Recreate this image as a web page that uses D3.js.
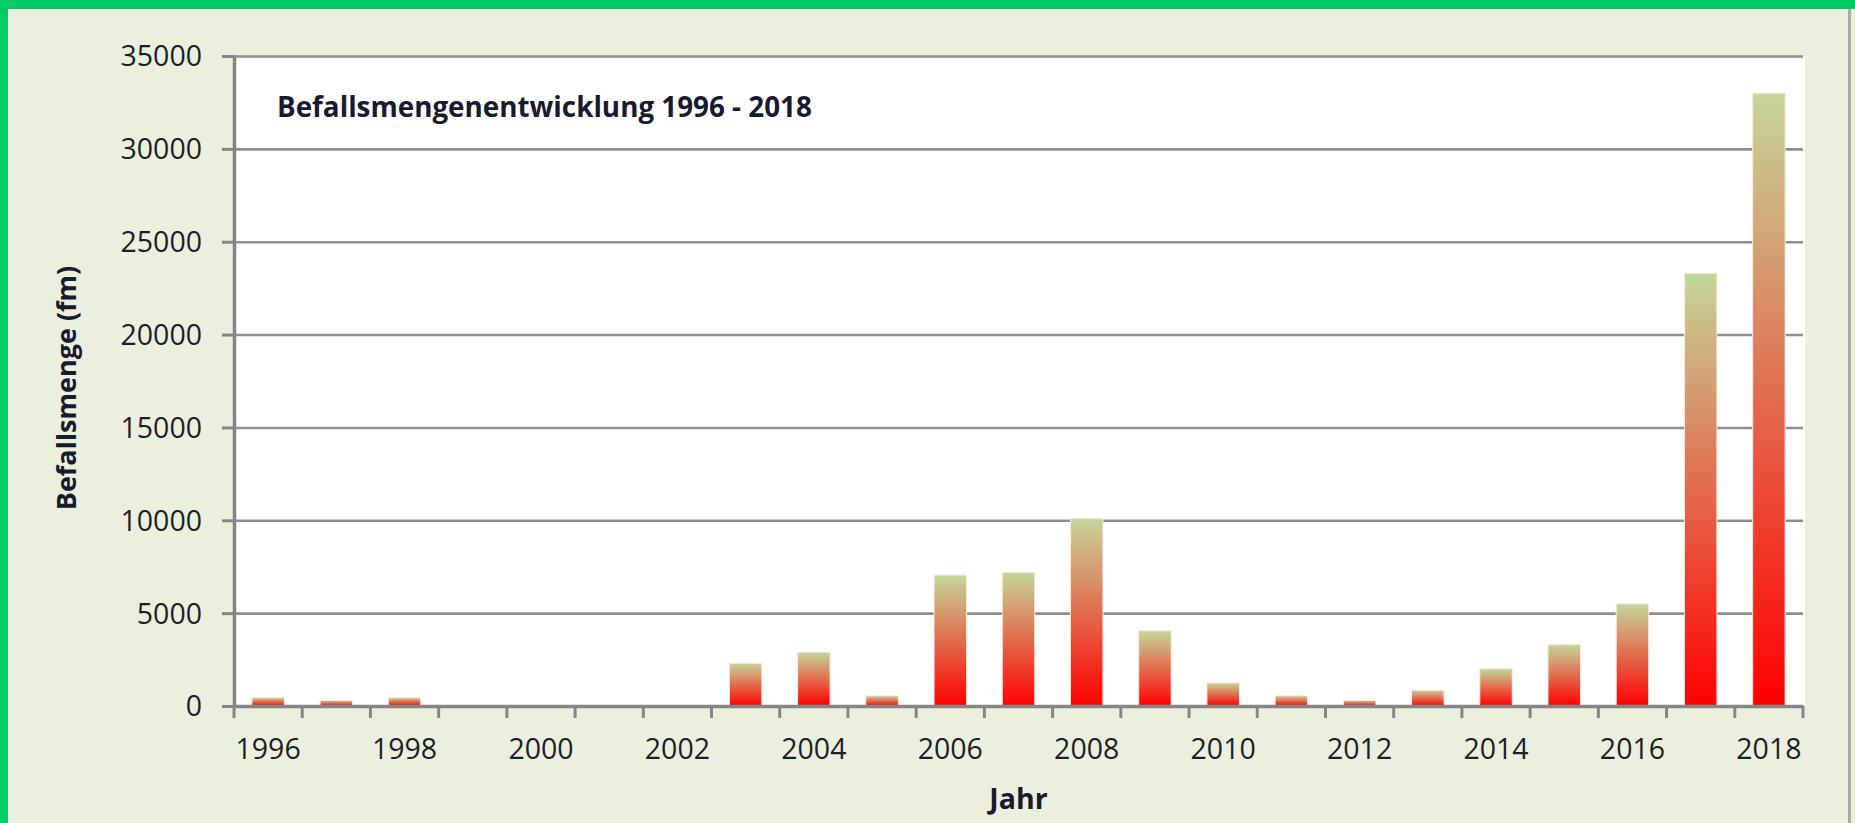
<!DOCTYPE html>
<html>
<head>
<meta charset="utf-8">
<script src="https://cdn.jsdelivr.net/npm/d3@7"></script>
<style>
  html, body { margin: 0; padding: 0; background: #ebf0de; }
  svg { display: block; font-family: "Open Sans", sans-serif; }
</style>
</head>
<body>
<div class="visContainer"></div>
<script>
// Data.
const years = ['1996', '1997', '1998', '1999', '2000', '2001', '2002', '2003', '2004', '2005', '2006', '2007',
               '2008', '2009', '2010', '2011', '2012', '2013', '2014', '2015', '2016', '2017', '2018'];
const befall = [450, 300, 450, 0, 0, 0, 0, 2300, 2900, 550, 7050, 7200,
                10100, 4050, 1250, 550, 300, 850, 2000, 3300, 5500, 23300, 33000];
const yTicks = [0, 5000, 10000, 15000, 20000, 25000, 30000, 35000];
const xLabels = ['1996', '1998', '2000', '2002', '2004', '2006', '2008', '2010', '2012', '2014', '2016', '2018'];

const titleText = 'Befallsmengenentwicklung 1996 - 2018';
const yTitle = 'Befallsmenge (fm)';
const xTitle = 'Jahr';

// SVG constants.
const width = 1855;
const height = 823;
const plot = { left: 234, right: 1803, top: 56, bottom: 706 };

const svg = d3.select('.visContainer')
              .append('svg')
              .attr('width', width)
              .attr('height', height);

// Frame: beige page, green edge, grey shadow on the right.
svg.append('rect').attr('width', width).attr('height', height).attr('fill', '#ebf0de');
svg.append('rect').attr('x', 0).attr('y', 0).attr('width', width).attr('height', 9).attr('fill', '#00cc66');
svg.append('rect').attr('x', 0).attr('y', 0).attr('width', 8).attr('height', height).attr('fill', '#00cc66');
svg.append('rect').attr('x', 1848).attr('y', 9).attr('width', 3).attr('height', height).attr('fill', '#a9aba4');

// Scales.
const pad = 0.524;
const x = d3.scaleBand()
            .domain(years)
            .range([plot.left, plot.right])
            .paddingInner(pad)
            .paddingOuter(pad / 2);

const y = d3.scaleLinear()
            .domain([0, 35000])
            .range([plot.bottom, plot.top]);

// Plot area.
svg.append('rect')
   .attr('x', plot.left)
   .attr('y', plot.top)
   .attr('width', plot.right - plot.left + 2)
   .attr('height', plot.bottom - plot.top)
   .attr('fill', '#ffffff');

// Gradient for bars: green at the top, red at the bottom.
const grad = svg.append('defs')
                .append('linearGradient')
                .attr('id', 'barGrad')
                .attr('x1', 0).attr('y1', 0)
                .attr('x2', 0).attr('y2', 1);
grad.append('stop').attr('offset', '0%').attr('stop-color', '#c4d79b');
grad.append('stop').attr('offset', '100%').attr('stop-color', '#ff0000');

// Gridlines.
svg.append('g')
   .attr('class', 'grid')
   .attr('transform', 'translate(' + plot.left + ',0)')
   .call(d3.axisLeft(y).tickValues(yTicks.slice(1)).tickSize(-(plot.right - plot.left)).tickFormat(''))
   .call(g => g.select('.domain').remove())
   .call(g => g.selectAll('line').attr('stroke', '#8e8e8e').attr('stroke-width', 2.6));

// Bars.
svg.append('g')
   .selectAll('rect')
   .data(years.map((d, i) => ({ year: d, value: befall[i] })))
   .enter()
   .append('rect')
   .attr('x', d => x(d.year))
   .attr('y', d => y(d.value))
   .attr('width', x.bandwidth())
   .attr('height', d => y(0) - y(d.value))
   .attr('fill', 'url(#barGrad)')
   .attr('stroke', d => d.value > 0 ? '#fbe9e4' : 'none')
   .attr('stroke-width', 1);

// Y axis.
const yAxis = svg.append('g')
   .attr('transform', 'translate(' + plot.left + ',0)')
   .call(d3.axisLeft(y).tickValues(yTicks).tickFormat(d3.format('d')).tickSize(12).tickPadding(20).tickSizeOuter(0));
yAxis.select('.domain').attr('stroke', '#868686').attr('stroke-width', 3.5);
yAxis.selectAll('line').attr('stroke', '#868686').attr('stroke-width', 3);
yAxis.selectAll('text')
     .attr('fill', '#1e1e28')
     .attr('dy', '0.35em')
     .style('font-size', '28.5px')
     .style('font-family', '"Open Sans", sans-serif');

// X axis: labels under every other year, ticks on category borders.
const xAxis = svg.append('g')
   .attr('transform', 'translate(0,' + plot.bottom + ')')
   .call(d3.axisBottom(x).tickValues(xLabels).tickSize(0).tickPadding(33).tickSizeOuter(0));
xAxis.select('.domain').attr('stroke', '#868686').attr('stroke-width', 3.5);
xAxis.selectAll('text')
     .attr('fill', '#1e1e28')
     .attr('dy', '0.71em')
     .style('font-size', '28.5px')
     .style('font-family', '"Open Sans", sans-serif');

const borders = years.map((d, i) => plot.left + i * x.step()).concat([plot.right]);
xAxis.selectAll('.border')
     .data(borders)
     .enter()
     .append('line')
     .attr('class', 'border')
     .attr('x1', d => d).attr('x2', d => d)
     .attr('y1', 0).attr('y2', 12)
     .attr('stroke', '#868686')
     .attr('stroke-width', 3);

// Titles.
svg.append('text')
   .attr('x', 277)
   .attr('y', 117)
   .attr('fill', '#1a1a2e')
   .style('font-size', '27.8px')
   .style('font-weight', 'bold')
   .text(titleText);

svg.append('text')
   .attr('transform', 'translate(76,388) rotate(-90)')
   .attr('text-anchor', 'middle')
   .attr('fill', '#1a1a2e')
   .style('font-size', '27px')
   .style('font-weight', 'bold')
   .text(yTitle);

svg.append('text')
   .attr('x', (plot.left + plot.right) / 2)
   .attr('y', 809)
   .attr('text-anchor', 'middle')
   .attr('fill', '#1a1a2e')
   .style('font-size', '28.5px')
   .style('font-weight', 'bold')
   .text(xTitle);
</script>
</body>
</html>
